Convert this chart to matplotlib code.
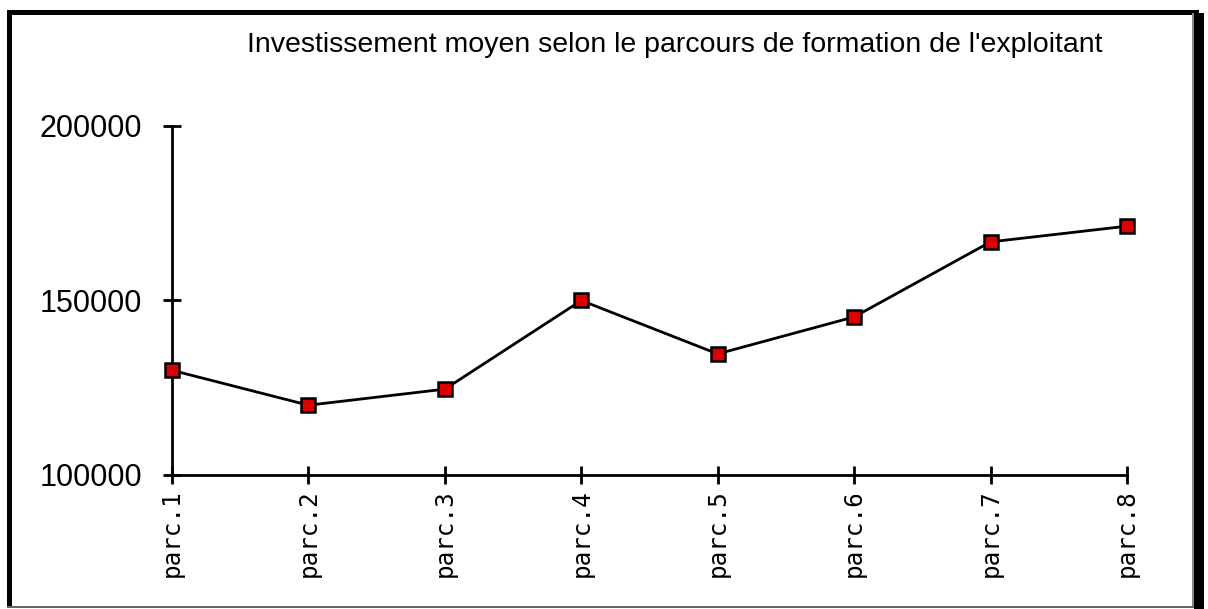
import matplotlib
matplotlib.use("Agg")
from matplotlib import pyplot as plt
from matplotlib.patches import Rectangle

# chart data
labels = ["parc.1", "parc.2", "parc.3", "parc.4", "parc.5", "parc.6", "parc.7", "parc.8"]
invest = [130000, 120000, 124600, 150000, 134700, 145300, 166800, 171300]
yticks = [100000, 150000, 200000]
title = "Investissement moyen selon le parcours de formation de l'exploitant"

W, H = 1208, 609
fig = plt.figure(figsize=(W / 100, H / 100), dpi=100)
fig.patch.set_facecolor("white")

# outer frame (thick left/top, shadowed right, thin bottom)
def px_rect(x0, y0, x1, y1, color):
    fig.patches.append(Rectangle((x0 / W, 1 - y1 / H), (x1 - x0) / W, (y1 - y0) / H,
                                 transform=fig.transFigure, color=color, lw=0, zorder=0))

px_rect(7, 10, 1199, 15, "black")
px_rect(7, 10, 12, 608, "black")
px_rect(1192, 13, 1194, 607, "#888888")
px_rect(1194, 13, 1204, 609, "black")
px_rect(7, 606, 1194, 608, "#666666")

# axes area: x from 172 to 1127 px, y from 126 (200000) to 475 (100000)
ax = fig.add_axes([172 / W, 1 - 475 / H, (1127 - 172) / W, (475 - 126) / H])
ax.set_facecolor("none")
x = list(range(len(labels)))
ax.plot(x, invest, color="black", lw=2, marker="s", ms=10, mfc="#dd0000", mec="black", mew=1.8,
        clip_on=False, zorder=3)
ax.set_xlim(0, len(labels) - 1)
ax.set_ylim(100000, 200000)

for s in ["top", "right"]:
    ax.spines[s].set_visible(False)
for s in ["left", "bottom"]:
    ax.spines[s].set_linewidth(2)

ax.set_yticks(yticks)
ax.set_yticklabels([str(v) for v in yticks], fontsize=22, family="Liberation Sans")
ax.set_xticks(x)
ax.set_xticklabels(labels, rotation=90, fontsize=17.5, family="DejaVu Sans Mono")
ax.tick_params(axis="both", direction="inout", length=13, width=2)
ax.tick_params(axis="y", pad=15)
ax.tick_params(axis="x", pad=4)

fig.text(675 / W, 1 - 45 / H, title, ha="center", va="center", fontsize=20.5, family="Liberation Sans")

fig.savefig("out.png", dpi=100)
